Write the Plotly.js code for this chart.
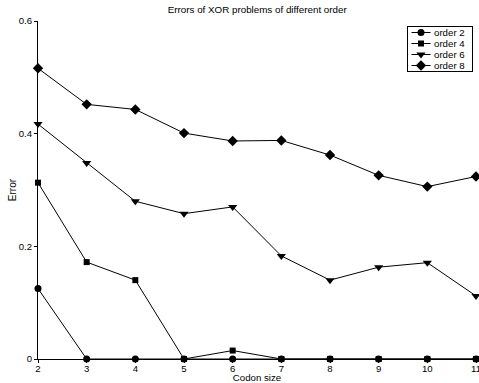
<!DOCTYPE html>
<html>
<head>
<meta charset="utf-8">
<script src="https://cdn.plot.ly/plotly-3.0.1.min.js"></script>
<style>html,body{margin:0;padding:0;background:#fff;}#chart{width:479px;height:383px;}</style>
</head>
<body>
<div id="chart"></div>
<script>
var codonSize = [2, 3, 4, 5, 6, 7, 8, 9, 10, 11];
var order2 = [0.125, 0, 0, 0, 0, 0, 0, 0, 0, 0];
var order4 = [0.313, 0.172, 0.140, 0, 0.015, 0, 0, 0, 0, 0];
var order6 = [0.417, 0.348, 0.280, 0.258, 0.270, 0.183, 0.140, 0.163, 0.171, 0.112];
var order8 = [0.516, 0.452, 0.443, 0.401, 0.387, 0.388, 0.362, 0.326, 0.306, 0.324];
var seriesNames = ['order 2', 'order 4', 'order 6', 'order 8'];
var xTicks = [2, 3, 4, 5, 6, 7, 8, 9, 10, 11];
var yTicks = [0, 0.2, 0.4, 0.6];
var yTickText = ['0', '0.2', '0.4', '0.6'];

var FONT = 'Liberation Sans, Arial, Helvetica, sans-serif';
var symbols = ['circle', 'square', 'triangle-down', 'diamond'];
var sizes = [7, 6, 8, 8];
var allY = [order2, order4, order6, order8];

var traces = allY.map(function (ys, i) {
  return {
    x: codonSize, y: ys, name: seriesNames[i],
    type: 'scatter', mode: 'lines+markers',
    line: {color: '#000', width: 1},
    marker: {symbol: symbols[i], size: sizes[i], color: '#000'},
    cliponaxis: false
  };
});

var layout = {
  width: 479, height: 383,
  margin: {l: 38, r: 3, t: 21, b: 24, autoexpand: false},
  paper_bgcolor: '#fff', plot_bgcolor: '#fff',
  font: {family: FONT, size: 10, color: '#000'},
  title: {text: 'Errors of XOR problems of different order', font: {family: FONT, size: 9.8, color: '#000'},
          x: 0.537, xanchor: 'center', y: 0.974, yanchor: 'middle'},
  xaxis: {
    range: [2, 11], tickvals: xTicks, ticktext: xTicks.map(String),
    showgrid: false, zeroline: false, showline: true, linecolor: '#000', linewidth: 1,
    ticks: 'outside', ticklen: 3, tickcolor: '#000', automargin: false,
    ticklabeloverflow: 'allow', ticklabelstandoff: -3,
    tickfont: {family: FONT, size: 9.6},
    title: {text: 'Codon size', font: {family: FONT, size: 9.7}, standoff: 4}
  },
  yaxis: {
    range: [0, 0.6], tickvals: yTicks, ticktext: yTickText,
    showgrid: false, zeroline: false, showline: true, linecolor: '#000', linewidth: 1,
    ticks: 'outside', ticklen: 3, tickcolor: '#000', automargin: false,
    tickfont: {family: FONT, size: 9.6},
    title: {text: 'Error', font: {family: FONT, size: 10}, standoff: 0}
  },
  showlegend: true,
  legend: {
    x: 1, y: 0.983, xanchor: 'right', yanchor: 'top',
    bgcolor: '#fff', bordercolor: '#000', borderwidth: 1,
    font: {family: FONT, size: 9.7}, itemwidth: 30, tracegroupgap: 0
  }
};

Plotly.newPlot('chart', traces, layout, {displayModeBar: false, staticPlot: true}).then(function (gd) {
  // Compact the legend rows to match the reference's tight spacing.
  try {
    var leg = gd.querySelector('.legend');
    if (!leg) return;
    var items = leg.querySelectorAll('.traces');
    var maxW = 0;
    items.forEach(function (it, i) {
      it.setAttribute('transform', 'translate(-6,' + (6.5 + 11 * i) + ')');
      var p = it.querySelector('.legendlines path');
      if (p) p.setAttribute('d', 'M10.5,0h19');
      var t = it.querySelector('text.legendtext');
      if (t) {
        t.setAttribute('x', 33);
        var w = t.getComputedTextLength ? t.getComputedTextLength() : 30;
        maxW = Math.max(maxW, 33 - 6 + w);
      }
    });
    leg.setAttribute('transform', 'translate(407,26)');
    var bg = leg.querySelector('rect.bg');
    var W = Math.round(maxW + 7), H = 45;
    if (bg) { bg.setAttribute('width', W); bg.setAttribute('height', H); bg.setAttribute('x', 0.5); bg.setAttribute('y', 0.5); }
    var sb = leg.querySelector('.scrollbox');
    if (sb) sb.removeAttribute('clip-path');
    var sbar = leg.querySelector('.scrollbar');
    if (sbar) sbar.style.display = 'none';
  } catch (e) {}
});
</script>
</body>
</html>
